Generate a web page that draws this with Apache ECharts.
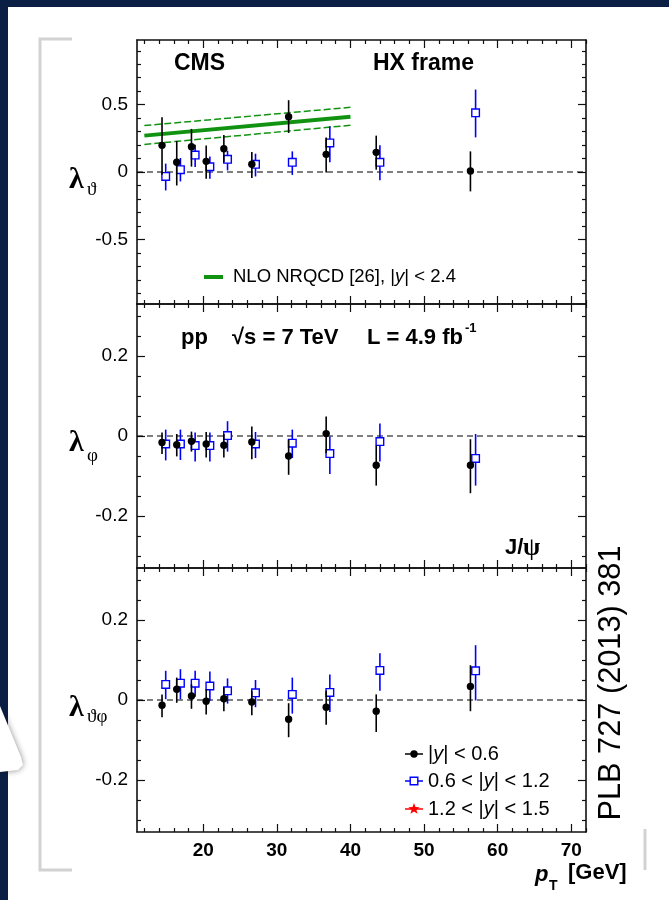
<!DOCTYPE html>
<html><head><meta charset="utf-8">
<script src="https://cdn.jsdelivr.net/npm/echarts@6/dist/echarts.min.js"></script>
<style>html,body{margin:0;padding:0;background:#fff;}#c{width:669px;height:900px;}</style>
</head><body><div id="c"></div>
<script>
// ---------------- data ----------------
const ptBlack = [14.4, 16.4, 18.4, 20.4, 22.8, 26.6, 31.6, 36.7, 43.5, 56.3];
const ptBlue  = [14.9, 16.9, 18.9, 20.9, 23.3, 27.1, 32.1, 37.2, 44.0, 57.0];

const lamThBlack   = [0.198, 0.072, 0.188, 0.079, 0.173, 0.057, 0.411, 0.131, 0.146, 0.007];
const lamThBlackLo = [-0.02, -0.10, 0.040, -0.050, 0.072, -0.045, 0.290, -0.003, 0.017, -0.144];
const lamThBlackHi = [0.406, 0.230, 0.320, 0.196, 0.275, 0.149, 0.533, 0.257, 0.270, 0.153];
const lamThBlue    = [-0.033, 0.017, 0.126, 0.039, 0.094, 0.057, 0.072, 0.216, 0.072, 0.439];
const lamThBlueLo  = [-0.137, -0.070, 0.037, -0.050, 0.012, -0.033, -0.022, 0.072, -0.062, 0.257];
const lamThBlueHi  = [0.062, 0.104, 0.203, 0.116, 0.158, 0.136, 0.153, 0.340, 0.198, 0.612];

const lamPhBlack   = [-0.016, -0.022, -0.013, -0.020, -0.023, -0.015, -0.050, 0.006, -0.073, -0.073];
const lamPhBlackLo = [-0.045, -0.051, -0.039, -0.054, -0.054, -0.058, -0.097, -0.043, -0.124, -0.143];
const lamPhBlackHi = [0.009, 0.005, 0.011, 0.010, 0.005, 0.024, -0.009, 0.049, -0.024, -0.008];
const lamPhBlue    = [-0.020, -0.020, -0.024, -0.024, 0.001, -0.020, -0.018, -0.044, -0.014, -0.056];
const lamPhBlueLo  = [-0.061, -0.060, -0.064, -0.064, -0.039, -0.055, -0.055, -0.095, -0.064, -0.124];
const lamPhBlueHi  = [0.016, 0.016, 0.009, 0.009, 0.037, 0.010, 0.016, -0.001, 0.031, 0.005];

const lamTpBlack   = [-0.013, 0.027, 0.010, -0.003, 0.003, -0.005, -0.048, -0.018, -0.028, 0.034];
const lamTpBlackLo = [-0.043, -0.007, -0.022, -0.036, -0.028, -0.038, -0.093, -0.062, -0.080, -0.028];
const lamTpBlackHi = [0.014, 0.056, 0.039, 0.027, 0.031, 0.023, -0.008, 0.023, 0.014, 0.087];
const lamTpBlue    = [0.039, 0.042, 0.042, 0.035, 0.023, 0.018, 0.014, 0.019, 0.074, 0.073];
const lamTpBlueLo  = [0.002, 0.002, 0.008, -0.002, -0.009, -0.018, -0.034, -0.030, 0.023, -0.001];
const lamTpBlueHi  = [0.073, 0.077, 0.073, 0.071, 0.054, 0.050, 0.056, 0.064, 0.117, 0.137];

const nloPt      = [12, 40];
const nloCentral = [0.270, 0.410];
const nloUpper   = [0.345, 0.480];
const nloLower   = [0.205, 0.347];

const xRange = [11, 72];
const xTickLabels = [20, 30, 40, 50, 60, 70];
const yTickLabelsTh = [-0.5, 0, 0.5];
const yTickLabelsPh = [-0.2, 0, 0.2];
const yRangeTh = [-0.98, 0.98];
const yRangePh = [-0.33, 0.33];

// ---------------- layout / style ----------------
const LEFT = 137, RIGHT = 83, PH = 264;
const panelTops = [40, 304, 568];
const BLACK = '#000', BLUE = '#0000ff', GREEN = '#119311', RED = '#ff0000';
const SANS = 'Liberation Sans, Arial, sans-serif';
const SERIF = 'Liberation Serif, Times New Roman, serif';

function stepList(a, b, s, exclude) {
  const out = [];
  for (let v = a; v <= b + 1e-9; v += s) {
    const r = Math.round(v * 1000) / 1000;
    if (!exclude.some(e => Math.abs(e - r) < 1e-6)) out.push(r);
  }
  return out;
}
const xMinor = stepList(12, 72, 2, xTickLabels);
const yMinorTh = stepList(-0.9, 0.9, 0.1, yTickLabelsTh);
const yMinorPh = stepList(-0.3, 0.3, 0.05, yTickLabelsPh);

const panels = [
  {range: yRangeTh, major: yTickLabelsTh, minor: yMinorTh},
  {range: yRangePh, major: yTickLabelsPh, minor: yMinorPh},
  {range: yRangePh, major: yTickLabelsPh, minor: yMinorPh}
];

const grids = [], xAxes = [], yAxes = [];
const lineSt = {color: '#111', width: 1.6};
const tickSt = {color: '#111', width: 1.2};
panels.forEach((p, g) => {
  grids.push({left: LEFT, right: RIGHT, top: panelTops[g], height: PH, containLabel: false});
  const isLast = g === panels.length - 1;
  ['bottom', 'top'].forEach(pos => {
    [true, false].forEach(major => {
      const showLab = major && pos === 'bottom' && isLast;
      xAxes.push({
        gridIndex: g, type: 'value', position: pos, min: xRange[0], max: xRange[1],
        axisLine: {show: major, onZero: false, lineStyle: lineSt},
        axisTick: {show: true, inside: true, length: major ? 8 : 4, customValues: major ? xTickLabels : xMinor, lineStyle: tickSt},
        axisLabel: {show: showLab, customValues: xTickLabels, margin: 9,
          fontFamily: SANS, fontSize: 19, fontWeight: 'bold', color: BLACK},
        splitLine: {show: false}
      });
    });
  });
  ['left', 'right'].forEach(pos => {
    [true, false].forEach(major => {
      const showLab = major && pos === 'left';
      yAxes.push({
        gridIndex: g, type: 'value', position: pos, min: p.range[0], max: p.range[1],
        axisLine: {show: major, onZero: false, lineStyle: lineSt},
        axisTick: {show: true, inside: true, length: major ? 8 : 4, customValues: major ? p.major : p.minor, lineStyle: tickSt},
        axisLabel: {show: showLab, customValues: p.major, margin: 9,
          fontFamily: SANS, fontSize: 19, color: BLACK},
        splitLine: {show: false}
      });
    });
  });
});

function errRender(kind, color) {
  return function (params, api) {
    const x = api.value(0), y = api.value(1), lo = api.value(2), hi = api.value(3);
    const c = api.coord([x, y]), cl = api.coord([x, lo]), ch = api.coord([x, hi]);
    const kids = [{type: 'line', shape: {x1: c[0], y1: cl[1], x2: c[0], y2: ch[1]}, style: {stroke: color, lineWidth: 1.6}}];
    if (kind === 'circle') {
      kids.push({type: 'circle', shape: {cx: c[0], cy: c[1], r: 3.7}, style: {fill: color}});
    } else {
      kids.push({type: 'rect', shape: {x: c[0] - 3.8, y: c[1] - 3.8, width: 7.6, height: 7.6}, style: {fill: '#fff', stroke: color, lineWidth: 1.4}});
    }
    return {type: 'group', children: kids};
  };
}
function zip4(xs, ys, lo, hi) { return xs.map((x, i) => [x, ys[i], lo[i], hi[i]]); }

const seriesSets = [
  [zip4(ptBlack, lamThBlack, lamThBlackLo, lamThBlackHi), zip4(ptBlue, lamThBlue, lamThBlueLo, lamThBlueHi)],
  [zip4(ptBlack, lamPhBlack, lamPhBlackLo, lamPhBlackHi), zip4(ptBlue, lamPhBlue, lamPhBlueLo, lamPhBlueHi)],
  [zip4(ptBlack, lamTpBlack, lamTpBlackLo, lamTpBlackHi), zip4(ptBlue, lamTpBlue, lamTpBlueLo, lamTpBlueHi)]
];

const series = [];
seriesSets.forEach((set, g) => {
  const xi = g * 4, yi = g * 4;
  series.push({type: 'line', xAxisIndex: xi, yAxisIndex: yi, data: xRange.map(x => [x, 0]),
    symbol: 'none', lineStyle: {color: BLACK, width: 1.2, type: [6, 4]}, z: 1, silent: true});
  if (g === 0) {
    series.push({type: 'line', xAxisIndex: xi, yAxisIndex: yi, data: nloPt.map((x, i) => [x, nloCentral[i]]),
      symbol: 'none', lineStyle: {color: GREEN, width: 4}, z: 2});
    series.push({type: 'line', xAxisIndex: xi, yAxisIndex: yi, data: nloPt.map((x, i) => [x, nloUpper[i]]),
      symbol: 'none', lineStyle: {color: GREEN, width: 1.5, type: [7, 3]}, z: 2});
    series.push({type: 'line', xAxisIndex: xi, yAxisIndex: yi, data: nloPt.map((x, i) => [x, nloLower[i]]),
      symbol: 'none', lineStyle: {color: GREEN, width: 1.5, type: [7, 3]}, z: 2});
  }
  series.push({type: 'custom', xAxisIndex: xi, yAxisIndex: yi, data: set[0], encode: {x: 0, y: 1},
    renderItem: errRender('circle', BLACK), z: 4});
  series.push({type: 'custom', xAxisIndex: xi, yAxisIndex: yi, data: set[1], encode: {x: 0, y: 1},
    renderItem: errRender('square', BLUE), z: 3});
});

// ---------------- annotations ----------------
function txt(x, y, text, font, extra) {
  return {type: 'text', x: x, y: y, z: 10, style: Object.assign({text: text, font: font, fill: BLACK,
    align: 'left', verticalAlign: 'middle', textAlign: 'left', textVerticalAlign: 'middle'}, extra || {})};
}
function starPoints(cx, cy, R, r) {
  const pts = [];
  for (let i = 0; i < 10; i++) {
    const a = -Math.PI / 2 + i * Math.PI / 5, rr = i % 2 ? r : R;
    pts.push([cx + rr * Math.cos(a), cy + rr * Math.sin(a)]);
  }
  return pts;
}
const ital = {i: {fontFamily: SANS, fontSize: 20, fontStyle: 'italic'}};
const legY = [754, 781, 809];
const graphics = [
  {type: 'rect', shape: {x: 0, y: 0, width: 669, height: 7}, style: {fill: '#0b1f45'}, z: 0},
  {type: 'rect', shape: {x: 0, y: 0, width: 8, height: 900}, style: {fill: '#0b1f45'}, z: 0},
  {type: 'polygon', shape: {points: [[0, 706], [21, 757], [23, 765], [18, 770], [0, 772]]},
    style: {fill: '#fff', shadowBlur: 6, shadowColor: 'rgba(0,0,0,0.45)'}, z: 1},
  {type: 'polyline', shape: {points: [[72, 39], [40, 39], [40, 870], [72, 870]]},
    style: {stroke: '#d2d2d2', lineWidth: 3, fill: null}, z: 0},
  {type: 'line', shape: {x1: 645, y1: 829, x2: 645, y2: 870}, style: {stroke: '#d2d2d2', lineWidth: 3}, z: 0},

  txt(174, 64, 'CMS', 'bold 23px ' + SANS),
  txt(373, 64, 'HX frame', 'bold 23px ' + SANS),
  {type: 'line', shape: {x1: 204, y1: 277, x2: 223, y2: 277}, style: {stroke: GREEN, lineWidth: 4}, z: 10},
  txt(233, 277, 'NLO NRQCD [26], |{i|y}| < 2.4', '18.5px ' + SANS, {rich: {i: {fontFamily: SANS, fontSize: 18.5, fontStyle: 'italic'}}}),

  txt(181, 338, 'pp', 'bold 22px ' + SANS),
  txt(232, 338, '\u221As = 7 TeV', 'bold 22px ' + SANS),
  txt(367, 338, 'L = 4.9 fb', 'bold 22px ' + SANS),
  txt(465, 328, '-1', 'bold 13px ' + SANS),
  txt(505, 548, 'J/', 'bold 22px ' + SANS),
  txt(523, 549, '\u03C8', 'bold 25px ' + SERIF),

  txt(535, 875, 'p', 'bold italic 22px ' + SANS),
  txt(549, 886, 'T', 'bold 14px ' + SANS),
  txt(568, 873, '[GeV]', 'bold 22px ' + SANS),

  txt(69, 180, '\u03BB', 'bold 30px ' + SERIF),
  txt(87, 190, '\u03D1', '19px ' + SERIF),
  txt(69, 443, '\u03BB', 'bold 30px ' + SERIF),
  txt(87, 456, '\u03C6', '19px ' + SERIF),
  txt(69, 708, '\u03BB', 'bold 30px ' + SERIF),
  txt(87, 717, '\u03D1\u03C6', '19px ' + SERIF),

  // legend
  {type: 'line', shape: {x1: 405, y1: legY[0], x2: 423, y2: legY[0]}, style: {stroke: BLACK, lineWidth: 1.5}, z: 10},
  {type: 'circle', shape: {cx: 414, cy: legY[0], r: 3.7}, style: {fill: BLACK}, z: 11},
  txt(428, legY[0], '|{i|y}| < 0.6', '20px ' + SANS, {rich: ital}),
  {type: 'line', shape: {x1: 405, y1: legY[1], x2: 423, y2: legY[1]}, style: {stroke: BLUE, lineWidth: 1.5}, z: 10},
  {type: 'rect', shape: {x: 410.2, y: legY[1] - 3.8, width: 7.6, height: 7.6}, style: {fill: '#fff', stroke: BLUE, lineWidth: 1.4}, z: 11},
  txt(428, legY[1], '0.6 < |{i|y}| < 1.2', '20px ' + SANS, {rich: ital}),
  {type: 'line', shape: {x1: 405, y1: legY[2], x2: 423, y2: legY[2]}, style: {stroke: RED, lineWidth: 1.5}, z: 10},
  {type: 'polygon', shape: {points: starPoints(414, legY[2], 6, 2.5)}, style: {fill: RED}, z: 11},
  txt(428, legY[2], '1.2 < |{i|y}| < 1.5', '20px ' + SANS, {rich: ital}),

  {type: 'text', x: 611, y: 683, rotation: Math.PI / 2, scaleX: 0.96, z: 10,
    style: {text: 'PLB 727 (2013) 381', font: '32px ' + SANS, fill: BLACK,
      align: 'center', verticalAlign: 'middle', textAlign: 'center', textVerticalAlign: 'middle'}}
];

const chart = echarts.init(document.getElementById('c'), null, {renderer: 'canvas', width: 669, height: 900});
chart.setOption({
  animation: false,
  backgroundColor: '#fff',
  grid: grids,
  xAxis: xAxes,
  yAxis: yAxes,
  series: series,
  graphic: {elements: graphics}
});
</script></body></html>
